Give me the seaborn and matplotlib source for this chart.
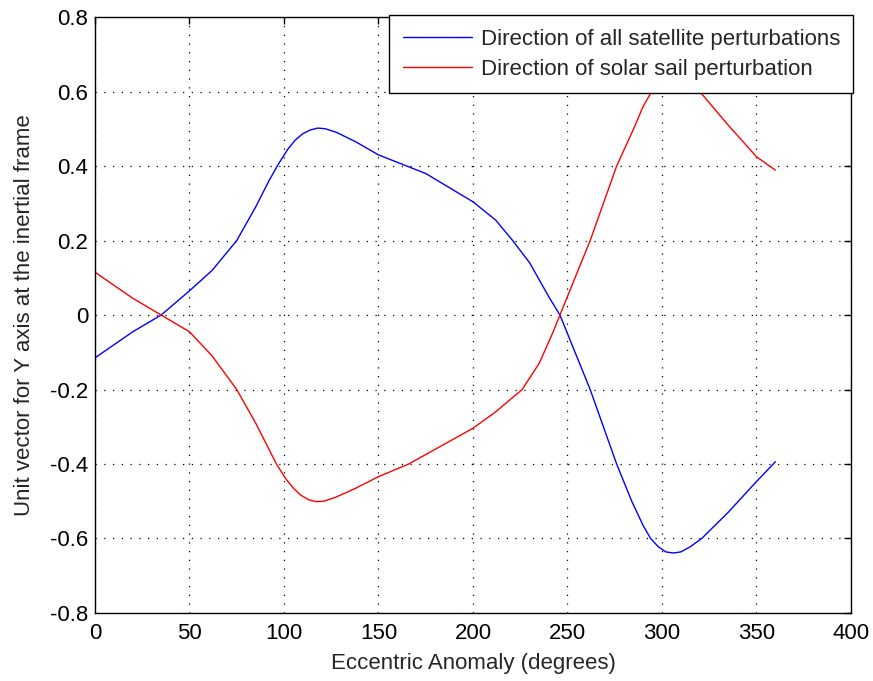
import pandas as pd
import matplotlib
matplotlib.use("Agg")
import matplotlib.pyplot as plt
import seaborn as sns

# eccentric anomaly (deg) and the two unit-vector Y components
anomaly_all = [0, 20, 35, 50, 62, 75, 85, 92, 97, 102, 106, 110, 114, 118, 122, 128,
               138, 150, 175, 200, 212, 221, 230, 240, 246, 254, 262, 269, 276, 284,
               290, 294, 298, 302, 306, 310, 315, 321, 335, 350, 360]
y_all = [-0.115, -0.045, 0.0, 0.065, 0.12, 0.2, 0.29, 0.36, 0.405, 0.445, 0.47, 0.487,
         0.497, 0.502, 0.5, 0.49, 0.465, 0.43, 0.38, 0.304, 0.255, 0.2, 0.14, 0.05,
         0.0, -0.1, -0.2, -0.3, -0.4, -0.5, -0.565, -0.6, -0.622, -0.636, -0.639,
         -0.636, -0.622, -0.6, -0.53, -0.447, -0.394]

anomaly_sail = [0, 20, 35, 50, 62, 75, 85, 91, 96, 101, 105, 109, 113, 117, 121, 127,
                138, 150, 166, 200, 212, 226, 235, 242, 246, 254, 262, 269, 276, 285,
                290, 294.5, 298, 302, 306, 310, 315, 320, 335, 350, 360]
y_sail = [0.115, 0.045, 0.0, -0.045, -0.11, -0.2, -0.29, -0.35, -0.4, -0.44, -0.465,
          -0.484, -0.496, -0.501, -0.5, -0.49, -0.465, -0.434, -0.4, -0.304, -0.26,
          -0.2, -0.13, -0.05, 0.0, 0.1, 0.2, 0.3, 0.4, 0.5, 0.56, 0.6, 0.622, 0.636,
          0.639, 0.636, 0.622, 0.6, 0.51, 0.425, 0.389]

labels = ["Direction of all satellite perturbations",
          "Direction of solar sail perturbation"]

df = pd.concat([
    pd.DataFrame({"E": anomaly_all, "y": y_all, "series": labels[0]}),
    pd.DataFrame({"E": anomaly_sail, "y": y_sail, "series": labels[1]}),
], ignore_index=True)

sns.set_style("white")
plt.rcParams["font.family"] = ["Liberation Sans", "DejaVu Sans"]
plt.rcParams["font.size"] = 16

fig = plt.figure(figsize=(8.73, 6.81), dpi=100)
ax = fig.add_axes([0.1088, 0.0999, 0.866, 0.875])

sns.lineplot(data=df, x="E", y="y", hue="series", sort=False,
             palette={labels[0]: "#0000ff", labels[1]: "#ff0000"},
             linewidth=1.0, ax=ax, estimator=None)

ax.set_xlim(0, 400)
ax.set_ylim(-0.8, 0.8)
ax.set_xticks(range(0, 401, 50))
ax.set_yticks([-0.8, -0.6, -0.4, -0.2, 0, 0.2, 0.4, 0.6, 0.8])
ax.set_yticklabels(["-0.8", "-0.6", "-0.4", "-0.2", "0", "0.2", "0.4", "0.6", "0.8"])
ax.grid(True, color="black", linestyle=(0, (1, 6)), linewidth=0.9)
ax.tick_params(direction="in", length=5, top=True, right=True, labelsize=16,
               colors="black", width=1, pad=5)
ax.tick_params(axis="x", pad=7)
for s in ax.spines.values():
    s.set_color("black")
    s.set_linewidth(1)

ax.set_xlabel("Eccentric Anomaly (degrees)", fontsize=16, labelpad=7)
ax.set_ylabel("Unit vector for Y axis at the inertial frame", fontsize=16, labelpad=11)

leg = ax.legend(loc="upper right", bbox_to_anchor=(1.003, 1.003), fontsize=16,
                frameon=True, fancybox=False, edgecolor="black", framealpha=1,
                borderaxespad=0, handlelength=3.1, handletextpad=0.4,
                borderpad=0.6, labelspacing=0.4)
leg.get_frame().set_linewidth(1)
leg.set_zorder(10)

fig.savefig("out.png", dpi=100)
